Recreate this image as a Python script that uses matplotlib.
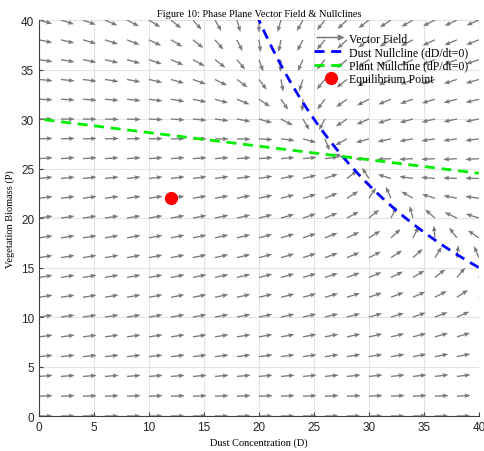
import numpy as np
import matplotlib
matplotlib.use('Agg')
import matplotlib.pyplot as plt
from matplotlib.legend_handler import HandlerBase
from matplotlib.patches import FancyArrowPatch
from matplotlib.lines import Line2D

# model parameters (fitted to the nullclines in the figure)
E = 10.0      # dust emission
r = 0.1       # dust removal
k = 0.01      # vegetation suppression of dust
g = 0.23      # vegetation growth rate
K = 30.0      # vegetation carrying capacity
h = 0.00105   # dust damage to vegetation

# grid of the vector field
d_grid = np.arange(0, 41, 2)
p_grid = np.arange(0, 41, 2)

# point marked as equilibrium
eq_D = [12]
eq_P = [22]

ticks = [0, 5, 10, 15, 20, 25, 30, 35, 40]

serif = 'Liberation Serif'
sans = 'Liberation Sans'
blue = '#0000ff'
green = '#00ee00'
red = '#ff0000'
arrow_gray = '#7a7a7a'

D, P = np.meshgrid(d_grid, p_grid)
dD = E - r * D - k * D * P
dP = g * P * (1 - P / K) - h * D * P
mag = np.hypot(dD, dP)
mag[mag == 0] = 1
U = dD / mag
V = dP / mag

d_line = np.linspace(0.5, 40, 400)
dust_null = E / (k * d_line) - r / k
plant_null = K * (1 - h * d_line / g)

fig = plt.figure(figsize=(4.85, 4.52), dpi=100)
ax = fig.add_axes([0.0804, 0.0774, 0.907, 0.876])

ax.quiver(D, P, U, V, angles='xy', scale_units='xy', scale=1 / 1.25,
          color=arrow_gray, width=0.003, headwidth=3.5, headlength=4.5,
          headaxislength=4, zorder=2)
ax.plot(d_line, dust_null, color=blue, lw=2, dashes=(3.6, 2.4), zorder=3)
ax.plot(d_line, plant_null, color=green, lw=2, dashes=(3.6, 2.4), zorder=3)
ax.plot(eq_D, eq_P, 'o', color=red, ms=8.5, zorder=4)

ax.set_xlim(0, 40)
ax.set_ylim(0, 40)
ax.set_xticks(ticks)
ax.set_yticks(ticks)
ax.grid(True, color='#e3e3e3', lw=0.8)
ax.set_axisbelow(True)
ax.tick_params(direction='in', length=3, labelsize=8.5, colors='#404040',
               labelcolor='#262626')
for lab in ax.get_xticklabels() + ax.get_yticklabels():
    lab.set_fontfamily(sans)
for s in ['top', 'right']:
    ax.spines[s].set_visible(False)
for s in ['left', 'bottom']:
    ax.spines[s].set_color('#404040')
    ax.spines[s].set_linewidth(0.8)

ax.set_title('Figure 10: Phase Plane Vector Field & Nullclines',
             fontfamily=serif, fontsize=7.5, pad=3)
ax.set_xlabel('Dust Concentration (D)', fontfamily=serif, fontsize=7.5, labelpad=3)
ax.set_ylabel('Vegetation Biomass (P)', fontfamily=serif, fontsize=7.5, labelpad=4)


class ArrowHandler(HandlerBase):
    def create_artists(self, legend, orig_handle, xdescent, ydescent,
                       width, height, fontsize, trans):
        y = height / 2 - ydescent
        arrow = FancyArrowPatch((-xdescent, y), (width - xdescent, y),
                                arrowstyle='-|>', mutation_scale=8,
                                color=arrow_gray, lw=1.1, transform=trans)
        return [arrow]


arrow_proxy = object()
handles = [
    arrow_proxy,
    Line2D([], [], color=blue, lw=2, dashes=(3.6, 2.4)),
    Line2D([], [], color=green, lw=2, dashes=(3.6, 2.4)),
    Line2D([], [], ls='', marker='o', color=red, ms=8.5),
]
labels = ['Vector Field', 'Dust Nullcline (dD/dt=0)',
          'Plant Nullcline (dP/dt=0)', 'Equilibrium Point']
ax.legend(handles, labels, loc='upper right', frameon=False,
          bbox_to_anchor=(1.0, 0.995),
          prop={'family': serif, 'size': 8.5}, handlelength=2.8,
          labelspacing=0.13, handletextpad=0.15,
          handler_map={arrow_proxy: ArrowHandler()})

fig.savefig('out.png', dpi=100)
